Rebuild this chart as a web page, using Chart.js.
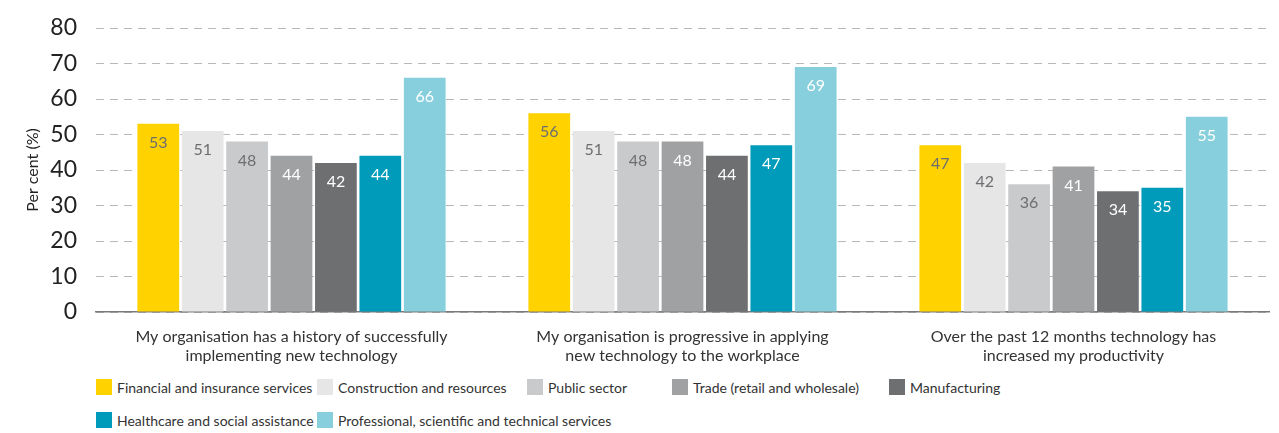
<!DOCTYPE html>
<html lang="en">
<head>
    <meta charset="UTF-8">
    <title>Technology adoption by industry</title>
    <script src="https://cdn.jsdelivr.net/npm/chart.js"></script>
    <style>
        html, body { margin: 0; padding: 0; background: #fff; }
        body { width: 1279px; height: 433px; overflow: hidden; font-family: Lato, "Liberation Sans", sans-serif; }
        .chart-wrap { position: relative; width: 1279px; height: 370px; }
        #legend { position: absolute; left: 96px; top: 379px; display: grid; grid-template-columns: 221px 210px 145px 217px auto; row-gap: 17px; }
        .item { display: flex; align-items: center; font-size: 14px; color: #333; height: 16px; white-space: nowrap; min-width: 0; }
        .swatch { flex: none; width: 16px; height: 16px; margin-right: 5px; }
    </style>
</head>
<body>

<div class="chart-wrap">
    <canvas id="chart"></canvas>
</div>
<div id="legend"></div>

<script>
    // Survey statements (x categories)
    const statements = [
        ['My organisation has a history of successfully', 'implementing new technology'],
        ['My organisation is progressive in applying', 'new technology to the workplace'],
        ['Over the past 12 months technology has', 'increased my productivity']
    ];

    // Industries and their colours
    const industries = [
        'Financial and insurance services',
        'Construction and resources',
        'Public sector',
        'Trade (retail and wholesale)',
        'Manufacturing',
        'Healthcare and social assistance',
        'Professional, scientific and technical services'
    ];
    const colours = ['#ffd200', '#e5e6e5', '#c9cacc', '#a0a1a3', '#6e6f71', '#009bba', '#87cfdd'];
    const labelColours = ['#6d6e70', '#6d6e70', '#6d6e70', '#fff', '#fff', '#fff', '#fff'];

    // Percentages per industry, one value per statement
    const financial = [53, 56, 47];
    const construction = [51, 51, 42];
    const publicSector = [48, 48, 36];
    const trade = [44, 48, 41];
    const manufacturing = [42, 44, 34];
    const healthcare = [44, 47, 35];
    const professional = [66, 69, 55];
    const series = [financial, construction, publicSector, trade, manufacturing, healthcare, professional];

    const yTicks = [0, 10, 20, 30, 40, 50, 60, 70, 80];

    const fontFamily = 'Lato, "Liberation Sans", sans-serif';

    // value labels drawn inside the top of each bar
    const barLabels = {
        id: 'barLabels',
        afterDatasetsDraw(chart) {
            const ctx = chart.ctx;
            ctx.save();
            ctx.font = '16px ' + fontFamily;
            ctx.textAlign = 'center';
            ctx.textBaseline = 'middle';
            chart.data.datasets.forEach((ds, i) => {
                chart.getDatasetMeta(i).data.forEach((bar, j) => {
                    ctx.fillStyle = labelColours[i];
                    ctx.fillText(ds.data[j], bar.x, bar.y + 19);
                });
            });
            ctx.restore();
        }
    };

    const chart = new Chart(document.getElementById('chart'), {
        type: 'bar',
        data: {
            labels: statements,
            datasets: industries.map((name, i) => ({
                label: name,
                data: series[i],
                backgroundColor: colours[i],
                categoryPercentage: 0.795,
                barPercentage: 0.94
            }))
        },
        options: {
            responsive: true,
            maintainAspectRatio: false,
            animation: false,
            layout: { padding: { top: 28, right: 10, left: 0, bottom: 0 } },
            plugins: {
                legend: { display: false },
                tooltip: { enabled: false }
            },
            scales: {
                x: {
                    grid: { display: false },
                    border: { display: true, color: '#7a7a7a', width: 1.5 },
                    ticks: {
                        color: '#333',
                        font: { size: 16, family: fontFamily, lineHeight: 1.2 },
                        padding: 7,
                        maxRotation: 0
                    },
                    afterFit(scale) { scale.height = 370 - 312; }
                },
                y: {
                    min: 0,
                    max: 80,
                    afterBuildTicks(scale) { scale.ticks = yTicks.map(v => ({ value: v })); },
                    grid: { color: '#b8b8b8', lineWidth: 1, drawTicks: false },
                    border: { display: false, dash: [8, 6] },
                    ticks: {
                        color: '#222',
                        // small lineHeight keeps the top label from pushing the plot area down
                        font: { size: 23, family: fontFamily, lineHeight: 0.6 },
                        padding: 19
                    },
                    title: {
                        display: true,
                        text: 'Per cent (%)',
                        color: '#222',
                        font: { size: 16, family: fontFamily },
                        padding: { top: 23, bottom: 0 }
                    },
                    afterFit(scale) { scale.width = 96; }
                }
            }
        },
        plugins: [barLabels]
    });

    // Legend built from the industry list
    const legend = document.getElementById('legend');
    industries.forEach((name, i) => {
        const item = document.createElement('div');
        item.className = 'item';
        item.innerHTML = '<span class="swatch" style="background:' + colours[i] + '"></span>' + name;
        legend.appendChild(item);
    });
</script>

</body>
</html>
